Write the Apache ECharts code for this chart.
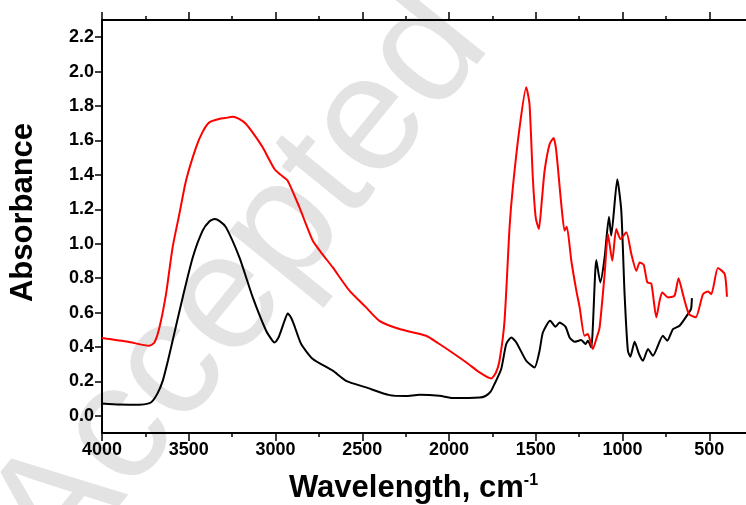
<!DOCTYPE html>
<html>
<head>
<meta charset="utf-8">
<script src="https://cdn.jsdelivr.net/npm/echarts@6/dist/echarts.min.js"></script>
<style>
  html, body { margin: 0; padding: 0; background: #fff; }
  #chart { width: 746px; height: 505px; }
</style>
</head>
<body>
<div id="chart"></div>
<script>
// black spectrum
const blackWavenumber = [4000, 3900, 3785, 3730, 3708, 3680, 3650, 3620, 3593, 3535, 3477, 3420, 3380, 3352, 3320, 3285, 3208, 3131, 3054, 3020, 3006, 2985, 2968, 2945, 2930, 2910, 2891, 2852, 2785, 2670, 2593, 2478, 2343, 2250, 2170, 2055, 1978, 1824, 1790, 1760, 1738, 1699, 1670, 1641, 1612, 1555, 1507, 1478, 1459, 1417, 1386, 1363, 1328, 1305, 1276, 1238, 1213, 1200, 1180, 1151, 1128, 1103, 1078, 1065, 1030, 1007, 988, 969, 955, 930, 905, 882, 853, 825, 767, 742, 709, 671, 623, 605, 600]
const blackAbsorbance = [0.072, 0.066, 0.064, 0.072, 0.087, 0.13, 0.203, 0.32, 0.436, 0.688, 0.92, 1.076, 1.13, 1.143, 1.13, 1.095, 0.92, 0.688, 0.494, 0.44, 0.426, 0.45, 0.494, 0.56, 0.595, 0.57, 0.523, 0.417, 0.33, 0.262, 0.203, 0.165, 0.12, 0.115, 0.122, 0.116, 0.103, 0.106, 0.115, 0.14, 0.184, 0.272, 0.417, 0.455, 0.426, 0.32, 0.281, 0.378, 0.484, 0.552, 0.517, 0.542, 0.517, 0.455, 0.43, 0.44, 0.417, 0.436, 0.397, 0.905, 0.775, 0.92, 1.157, 1.047, 1.374, 1.192, 0.707, 0.378, 0.343, 0.43, 0.359, 0.32, 0.388, 0.349, 0.465, 0.436, 0.504, 0.523, 0.591, 0.62, 0.684]

// red spectrum
const redWavenumber = [4000, 3850, 3727, 3698, 3669, 3631, 3593, 3554, 3516, 3458, 3420, 3381, 3324, 3290, 3247, 3210, 3170, 3120, 3074, 3006, 2970, 2930, 2862, 2785, 2730, 2670, 2574, 2478, 2401, 2285, 2132, 2060, 1997, 1900, 1824, 1757, 1730, 1709, 1680, 1651, 1632, 1593, 1555, 1536, 1517, 1500, 1482, 1465, 1449, 1420, 1397, 1382, 1353, 1334, 1321, 1295, 1266, 1247, 1219, 1200, 1171, 1150, 1132, 1103, 1084, 1059, 1036, 1011, 978, 949, 920, 901, 878, 857, 834, 805, 786, 771, 738, 700, 677, 652, 617, 578, 536, 507, 488, 450, 411, 398]
const redAbsorbance = [0.452, 0.43, 0.407, 0.426, 0.513, 0.707, 0.979, 1.173, 1.366, 1.56, 1.65, 1.705, 1.725, 1.73, 1.738, 1.725, 1.696, 1.63, 1.56, 1.434, 1.4, 1.366, 1.211, 1.017, 0.94, 0.862, 0.727, 0.63, 0.552, 0.504, 0.465, 0.42, 0.378, 0.31, 0.252, 0.217, 0.25, 0.32, 0.552, 1.095, 1.327, 1.676, 1.909, 1.812, 1.386, 1.15, 1.085, 1.25, 1.424, 1.58, 1.614, 1.541, 1.231, 1.076, 1.099, 0.901, 0.727, 0.63, 0.465, 0.475, 0.388, 0.45, 0.513, 0.824, 1.056, 0.901, 1.085, 1.027, 1.066, 0.94, 0.843, 0.891, 0.878, 0.775, 0.769, 0.572, 0.669, 0.717, 0.688, 0.698, 0.8, 0.707, 0.591, 0.572, 0.707, 0.723, 0.707, 0.859, 0.824, 0.692]

const yLabelValues = [0.0, 0.2, 0.4, 0.6, 0.8, 1.0, 1.2, 1.4, 1.6, 1.8, 2.0, 2.2]

const zip = (xs, ys) => xs.map((x, i) => [x, ys[i]])

const chart = echarts.init(document.getElementById('chart'))

const fontFamily = '"Liberation Sans", Arial, sans-serif'
// plot box runs past the right edge of the picture (0 cm-1 is off screen)
const gridBox = { left: 102, right: -50, top: 20, bottom: 72, outerBoundsMode: 'none' }

const xAxisCommon = {
  type: 'value',
  min: 0,
  max: 4000,
  interval: 500,
  inverse: true,
  splitLine: { show: false },
  axisLine: { show: true, onZero: false, lineStyle: { color: '#000', width: 2 } },
  axisTick: { show: true, inside: false, length: 8, lineStyle: { color: '#000', width: 1.5 } },
  minorTick: { show: true, splitNumber: 2, length: 4, lineStyle: { color: '#000', width: 1.5 } }
}

const option = {
  animation: false,
  backgroundColor: '#fff',
  grid: [Object.assign({}, gridBox), Object.assign({}, gridBox)],
  // watermark
  graphic: [{
    type: 'text',
    x: 88,
    y: 603,
    z: -10,
    rotation: 51 * Math.PI / 180,
    style: {
      text: 'Accepted Manuscript',
      fontSize: 165,
      fontFamily: fontFamily,
      fill: '#e3e3e3',
      align: 'left',
      verticalAlign: 'bottom'
    }
  }],
  xAxis: [
    Object.assign({}, xAxisCommon, {
      position: 'bottom',
      name: '{a|Wavelength, cm}{b|-1}',
      nameLocation: 'middle',
      nameGap: 40,
      nameTextStyle: {
        padding: [0, 71, 0, 0],
        rich: {
          a: { fontSize: 31, fontWeight: 'bold', fontFamily: fontFamily, color: '#000', lineHeight: 30 },
          b: { fontSize: 16, fontWeight: 'bold', fontFamily: fontFamily, color: '#000', verticalAlign: 'top', lineHeight: 16 }
        }
      },
      axisLabel: { show: true, margin: 8, fontSize: 18, fontWeight: 'bold', fontFamily: fontFamily, color: '#000', formatter: v => String(v) }
    }),
    Object.assign({}, xAxisCommon, {
      position: 'top',
      axisLabel: { show: false }
    }),
    {
      type: 'value',
      gridIndex: 1,
      min: 0,
      max: 4000,
      inverse: true,
      show: false
    }
  ],
  yAxis: [
    {
      type: 'value',
      min: -0.1,
      max: 2.3,
      position: 'left',
      splitLine: { show: false },
      axisLine: { show: true, onZero: false, lineStyle: { color: '#000', width: 2 } },
      axisTick: { show: true, length: 7, customValues: yLabelValues, lineStyle: { color: '#000', width: 1.5 } },
      axisLabel: {
        show: true,
        customValues: yLabelValues,
        margin: 8,
        fontSize: 18,
        fontWeight: 'bold',
        fontFamily: fontFamily,
        color: '#000',
        formatter: v => v.toFixed(1)
      },
      name: 'Absorbance',
      nameLocation: 'middle',
      nameGap: 63,
      nameTextStyle: {
        fontSize: 31,
        fontWeight: 'bold',
        fontFamily: fontFamily,
        color: '#000',
        padding: [0, 0, 0, 28]
      }
    },
    {
      // minor ticks, in an identical second grid so it sits on the left too
      type: 'value',
      gridIndex: 1,
      min: -0.1,
      max: 2.3,
      interval: 0.1,
      position: 'left',
      splitLine: { show: false },
      axisLine: { show: false },
      axisTick: { show: true, length: 4, lineStyle: { color: '#000', width: 1.5 } },
      axisLabel: { show: false }
    }
  ],
  series: [
    {
      name: 'black',
      type: 'line',
      data: zip(blackWavenumber, blackAbsorbance),
      showSymbol: false,
      smooth: 0.2,
      lineStyle: { color: '#000', width: 2 },
      z: 3
    },
    {
      name: 'red',
      type: 'line',
      data: zip(redWavenumber, redAbsorbance),
      showSymbol: false,
      smooth: 0.2,
      lineStyle: { color: '#ff0000', width: 2 },
      z: 4
    }
  ]
}

chart.setOption(option)
</script>
</body>
</html>
